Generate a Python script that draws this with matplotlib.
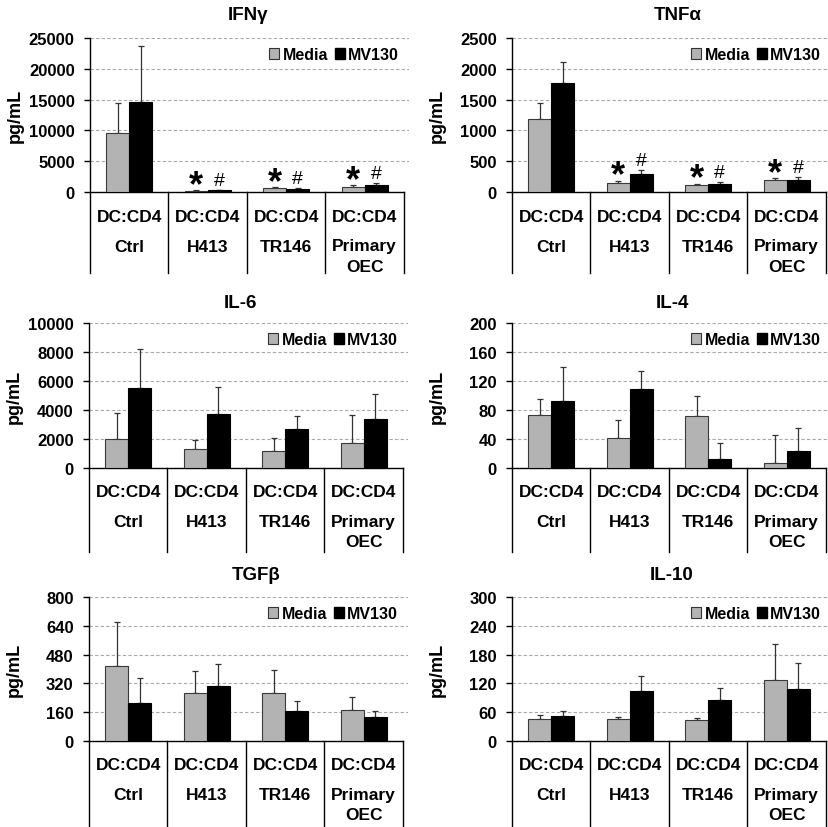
import matplotlib
matplotlib.use('Agg')
import matplotlib.pyplot as plt
import numpy as np
from matplotlib.patches import Patch

plt.rcParams['font.family'] = ['Liberation Sans', 'DejaVu Sans']
plt.rcParams['font.weight'] = 'bold'

# ---------------- data ----------------
groups = ['Ctrl', 'H413', 'TR146', 'Primary\nOEC']
group_prefix = 'DC:CD4'
series_names = ['Media', 'MV130']

titles = ['IFNγ', 'TNFα', 'IL-6', 'IL-4', 'TGFβ', 'IL-10']

ifng_media = [9650, 200, 650, 760]
ifng_media_sd = [4770, 60, 110, 380]
ifng_mv130 = [14640, 270, 490, 1140]
ifng_mv130_sd = [8990, 120, 110, 320]

tnfa_media = [1190, 152, 114, 190]
tnfa_media_sd = [250, 32, 22, 38]
tnfa_mv130 = [1767, 293, 125, 190]
tnfa_mv130_sd = [336, 70, 32, 54]

il6_media = [2020, 1290, 1170, 1750]
il6_media_sd = [1750, 640, 920, 1910]
il6_mv130 = [5540, 3720, 2670, 3400]
il6_mv130_sd = [2650, 1840, 920, 1700]

il4_media = [73.6, 42, 72, 6.9]
il4_media_sd = [21.4, 24, 27, 39]
il4_mv130 = [92, 108.5, 12.4, 23]
il4_mv130_sd = [47, 25.5, 21.6, 32.7]

tgfb_media = [417, 265, 269, 172]
tgfb_media_sd = [244, 126, 125, 71]
tgfb_mv130 = [209, 306, 169, 133]
tgfb_mv130_sd = [139, 122, 53, 32]

il10_media = [46, 45, 43.5, 128]
il10_media_sd = [8, 5, 4.5, 74]
il10_mv130 = [53, 105, 86, 109]
il10_mv130_sd = [9, 30, 25, 53]

ifng_ticks = [0, 5000, 10000, 15000, 20000, 25000]
tnfa_ticks = [0, 500, 1000, 1500, 2000, 2500]
il6_ticks = [0, 2000, 4000, 6000, 8000, 10000]
il4_ticks = [0, 40, 80, 120, 160, 200]
tgfb_ticks = [0, 160, 320, 480, 640, 800]
il10_ticks = [0, 60, 120, 180, 240, 300]

# significance marks (media mark, mv130 mark) per group
ifng_marks = [('', ''), ('*', '#'), ('*', '#'), ('*', '#')]
tnfa_marks = [('', ''), ('*', '#'), ('*', '#'), ('*', '#')]
no_marks = [('', ''), ('', ''), ('', ''), ('', '')]

panels = [
    (ifng_media, ifng_media_sd, ifng_mv130, ifng_mv130_sd, ifng_ticks, ifng_marks),
    (tnfa_media, tnfa_media_sd, tnfa_mv130, tnfa_mv130_sd, tnfa_ticks, tnfa_marks),
    (il6_media, il6_media_sd, il6_mv130, il6_mv130_sd, il6_ticks, no_marks),
    (il4_media, il4_media_sd, il4_mv130, il4_mv130_sd, il4_ticks, no_marks),
    (tgfb_media, tgfb_media_sd, tgfb_mv130, tgfb_mv130_sd, tgfb_ticks, no_marks),
    (il10_media, il10_media_sd, il10_mv130, il10_mv130_sd, il10_ticks, no_marks),
]

# ---------------- layout (pixels) ----------------
W, H = 829, 828
fig = plt.figure(figsize=(W / 100, H / 100), dpi=100)

# (left, top, bottom, bracket_bottom, title_x, title_y)
layout = [
    (90, 39, 193, 274, 248, 15),
    (512, 39, 193, 274, 678, 15),
    (89, 324, 469, 553, 240, 303),
    (512, 324, 469, 553, 672, 303),
    (89, 598, 742, 828, 256, 576),
    (512, 598, 742, 828, 672, 576),
]
cat_w = 78.5
extra_px = 5

media_color = '#b3b3b3'
mv_color = '#000000'
bw = 0.29

for (media, msd, mv, mvsd, ticks, marks), (left, top, bottom, bb, tx, ty), title in zip(panels, layout, titles):
    right = left + 4 * cat_w + extra_px
    ax = fig.add_axes([left / W, 1 - bottom / H, (right - left) / W, (bottom - top) / H])
    x = np.arange(len(groups))
    ax.bar(x - bw / 2, media, bw, color=media_color, edgecolor='#3a3a3a', linewidth=0.8, zorder=3)
    ax.bar(x + bw / 2, mv, bw, color=mv_color, edgecolor='black', linewidth=0.8, zorder=3)
    ax.errorbar(x - bw / 2, media, yerr=[np.zeros(len(media)), msd], fmt='none',
                ecolor='#333333', elinewidth=0.9, capsize=2, capthick=0.9, zorder=2)
    ax.errorbar(x + bw / 2, mv, yerr=[np.zeros(len(mv)), mvsd], fmt='none',
                ecolor='#333333', elinewidth=0.9, capsize=2, capthick=0.9, zorder=2)

    ax.set_xlim(-0.5, 3.5 + extra_px / cat_w)
    ax.set_ylim(ticks[0], ticks[-1])
    ax.set_yticks(ticks)
    ax.set_yticklabels([str(t) for t in ticks], fontsize=12, fontweight='bold')
    ax.set_xticks([])
    for t in ticks[1:]:
        ax.axhline(t, color='#a8a8a8', linewidth=0.8, linestyle=(0, (3, 2)), zorder=1)
    ax.spines['top'].set_visible(False)
    ax.spines['right'].set_visible(False)
    ax.spines['left'].set_linewidth(1.0)
    ax.spines['bottom'].set_linewidth(1.0)
    ax.spines['bottom'].set_bounds(-0.5, 3.5)
    ax.tick_params(axis='y', length=4, width=1, pad=7)
    ax.set_ylabel('pg/mL', fontsize=13, fontweight='bold')
    ax.yaxis.set_label_coords(-66 / (right - left), 0.5)

    # category bracket lines
    h = bottom - top
    for xv in [-0.5, 0.5, 1.5, 2.5, 3.5]:
        ax.plot([xv, xv], [0, -(bb - bottom) / h], color='black', linewidth=1.0,
                transform=ax.get_xaxis_transform(), clip_on=False)
    # category labels
    for i, g in enumerate(groups):
        lines = [group_prefix] + g.split('\n')
        offs = [24, 54, 74]
        for ln, off in zip(lines, offs):
            ax.annotate(ln, xy=(i, 0), xycoords='data', xytext=(0, -off * 0.72),
                        textcoords='offset points', ha='center', va='center',
                        fontsize=12.5, fontweight='bold', annotation_clip=False)

    # significance marks
    for i, (m1, m2) in enumerate(marks):
        if m1:
            ax.annotate(m1, xy=(i - bw / 2, media[i] + msd[i]), xytext=(0, -3.5),
                        textcoords='offset points', ha='center', va='baseline',
                        fontsize=26, fontweight='bold')
        if m2:
            ax.annotate(m2, xy=(i + bw / 2, mv[i] + mvsd[i]), xytext=(0, 3.5),
                        textcoords='offset points', ha='center', va='baseline',
                        fontsize=14, fontweight='normal')

    handles = [Patch(facecolor=media_color, edgecolor='#333333', linewidth=0.8),
               Patch(facecolor=mv_color, edgecolor='black')]
    ax.legend(handles, series_names, ncol=2, loc='upper right',
              bbox_to_anchor=(1 - 10 / (right - left), 1 - 9 / h),
              frameon=False, handlelength=0.65, handleheight=0.65, handletextpad=0.2,
              columnspacing=0.4, borderaxespad=0, borderpad=0,
              prop={'size': 11.5, 'weight': 'bold'})

    fig.text(tx / W, 1 - ty / H, title, ha='center', va='center', fontsize=13.5, fontweight='bold')

fig.savefig('out.png', dpi=100)
